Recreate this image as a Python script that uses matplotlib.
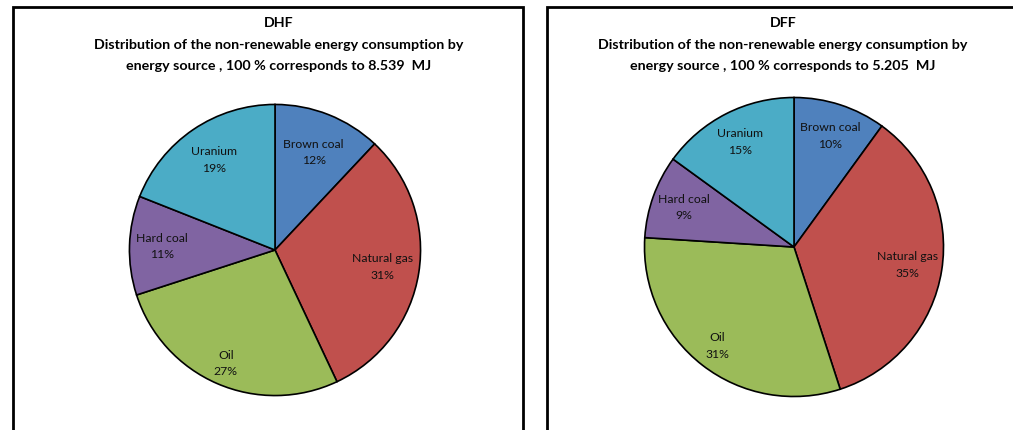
import matplotlib.pyplot as plt
from matplotlib.patches import Rectangle

# energy sources, clockwise from 12 o'clock
sources = ['Brown coal', 'Natural gas', 'Oil', 'Hard coal', 'Uranium']
colors = ['#4F81BD', '#C0504D', '#9BBB59', '#8064A2', '#4BACC6']

dhf_share = [12, 31, 27, 11, 19]
dff_share = [10, 35, 31, 9, 15]
dhf_total = '8.539'
dff_total = '5.205'

W, H = 1013, 430
plt.rcParams['font.family'] = ['Lato', 'DejaVu Sans']

fig = plt.figure(figsize=(W / 100, H / 100), dpi=100)


def px_axes(cx, cy, r):
    # square axes around a pie centre given in pixels (y from top)
    return fig.add_axes([(cx - r) / W, (H - cy - r) / H, 2 * r / W, 2 * r / H])


def draw_pie(ax, shares, radii):
    labels = [f'{s}\n{v}%' for s, v in zip(sources, shares)]
    wedges, texts = ax.pie(
        shares, labels=labels, colors=colors, startangle=90,
        counterclock=False, labeldistance=0.75,
        wedgeprops=dict(edgecolor='black', linewidth=1.2),
        textprops=dict(fontsize=8.8, color='#111111', linespacing=1.65),
    )
    for t, d in zip(texts, radii):
        x, y = t.get_position()
        t.set_position((x * d / 0.75, y * d / 0.75))
        t.set_ha('center')
        t.set_va('center')
    ax.set_xlim(-1.01, 1.01)
    ax.set_ylim(-1.01, 1.01)


def title(cx, name, total):
    style = dict(ha='center', va='center', fontsize=10.3, fontweight='bold')
    fig.text(cx / W, 1 - 23 / H, name, **style)
    fig.text(cx / W, 1 - 45 / H,
             'Distribution of the non-renewable energy consumption by',
             **style)
    fig.text(cx / W, 1 - 66 / H,
             f'energy source , 100 % corresponds to {total}  MJ', **style)


# panel frames (bottom and right run off the canvas)
fig.add_artist(Rectangle((13 / W, -0.1), 510 / W, 1.1 - 7 / H,
                         transform=fig.transFigure, fill=False, lw=2,
                         edgecolor='black'))
fig.add_artist(Rectangle((547 / W, -0.1), 500 / W, 1.1 - 7 / H,
                         transform=fig.transFigure, fill=False, lw=2,
                         edgecolor='black'))

draw_pie(px_axes(275, 250, 147), dhf_share, [0.72, 0.75, 0.85, 0.78, 0.75])
draw_pie(px_axes(794, 247, 151), dff_share, [0.78, 0.77, 0.84, 0.78, 0.79])

title(279, 'DHF', dhf_total)
title(783, 'DFF', dff_total)

fig.savefig('out.png', dpi=100)
